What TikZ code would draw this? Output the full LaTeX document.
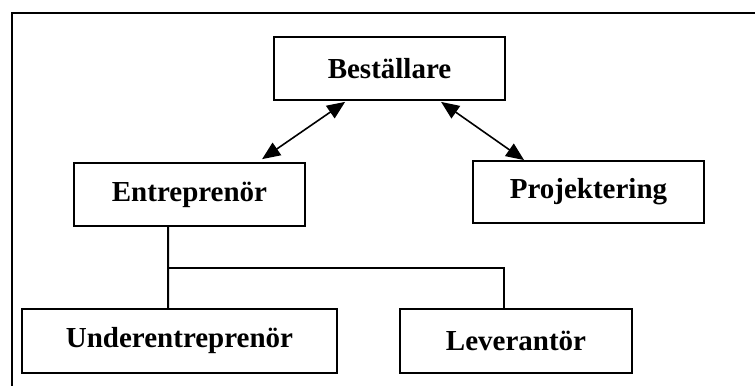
\documentclass[tikz,border=0pt]{standalone}
\usepackage{fontspec}
\setmainfont{Liberation Serif}
\usetikzlibrary{arrows.meta}
\begin{document}
\begin{tikzpicture}[x=1bp,y=-1bp,
  box/.style={draw, line width=1.8bp, inner sep=0pt, anchor=center,
    font=\fontsize{29bp}{34bp}\selectfont\bfseries},
  link/.style={line width=1.8bp},
  dblarrow/.style={line width=1.6bp,
    {Triangle[length=18bp,width=15bp]}-{Triangle[length=18bp,width=15bp]}},
  frame/.style={line width=1.6bp}]
  \useasboundingbox (0,0) rectangle (755,385);
  \fill[white] (0,0) rectangle (755,385);
  % surrounding frame, open to the right and bottom
  \draw[frame] (12,390) -- (12,13) -- (760,13);

  % organisation boxes
  \node[box, minimum width=231bp, minimum height=63bp] (best) at (389.5,68.5) {Beställare};
  \node[box, minimum width=231bp, minimum height=63bp] (entr) at (189.5,194.5) {Entreprenör};
  \node[box, minimum width=231bp, minimum height=62bp] (proj) at (588.5,192) {Projektering};
  \node[box, minimum width=315bp, minimum height=64bp] (under) at (179.5,341) {Underentreprenör};
  \node[box, minimum width=232bp, minimum height=64bp] (lev) at (516,341) {Leverantör};

  % two-way relations with the client
  \draw[dblarrow] ([xshift=72bp,yshift=-1bp]best.south west) -- ([xshift=189bp,yshift=3bp]entr.north west);
  \draw[dblarrow] ([xshift=168bp,yshift=-1bp]best.south west) -- ([xshift=52bp]proj.north west);

  % contractor tree
  \coordinate (split) at (169,268);
  \draw[link] ([xshift=95bp]entr.south west) -- ([xshift=147bp]under.north west);
  \draw[link] (split) -| ([xshift=105bp]lev.north west);
\end{tikzpicture}
\end{document}
